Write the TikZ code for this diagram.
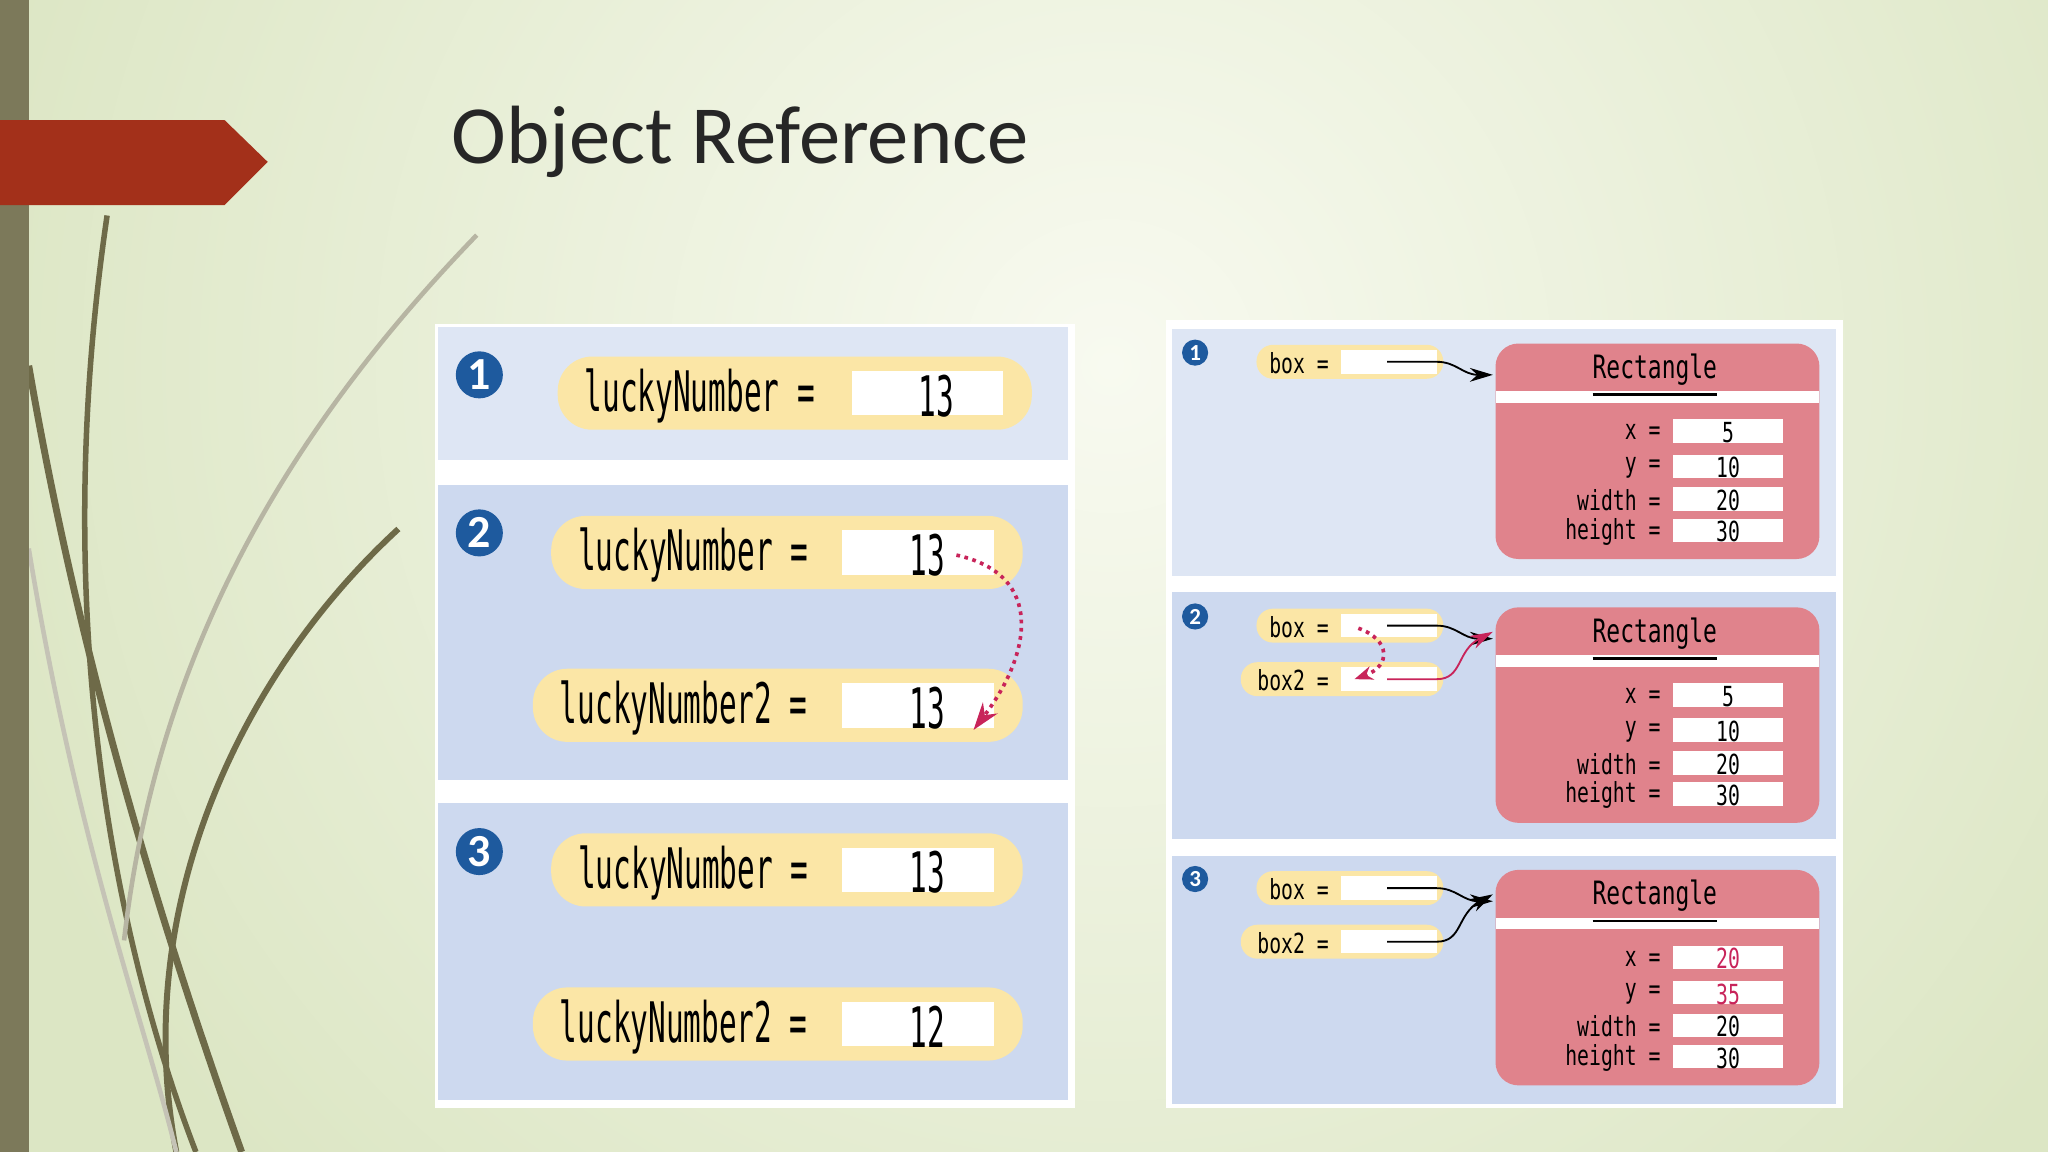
\documentclass[tikz,border=0pt]{standalone}
\usepackage{fontspec}
\setmainfont{Carlito}
\newfontfamily\monof{DejaVu Sans Mono}
\usetikzlibrary{arrows.meta}
\definecolor{bgout}{HTML}{DCE6C4}
\definecolor{bgin}{HTML}{F8FAF0}
\definecolor{pA}{HTML}{DEE6F4}
\definecolor{pB}{HTML}{CDD9EF}
\definecolor{pill}{HTML}{FBE6A6}
\definecolor{nblue}{HTML}{1E5A9E}
\definecolor{rect}{HTML}{E0838C}
\definecolor{arrowred}{HTML}{C8245A}
\definecolor{olive}{HTML}{6E6A48}
\definecolor{tag}{HTML}{A3301A}
\tikzset{
 pillS/.style={fill=pill,rounded corners=7.5pt},
 boxS/.style={fill=white},
 num/.style={circle,fill=nblue,text=white,inner sep=0pt,font=\bfseries},
 bigt/.style={font=\monof\fontsize{6.4}{7}\selectfont,anchor=west,inner sep=0pt},
 smt/.style={font=\monof\fontsize{4.3}{5}\selectfont,inner sep=0pt},
 ref/.style={-{Stealth[length=5pt,width=3pt]},thin},
 dotref/.style={-{Stealth[length=6pt,width=4pt]},densely dotted,thick,arrowred},
}
\newcommand\bigpill[6]{% name, x1,x2,y, label, value
 \fill[pillS] (#2,#4-28) rectangle (#3,#4+28);
 \fill[boxS] (#3-138,#4-17) rectangle (#3-22,#4+17);
 \node[bigt] (#1l) at (#2+20,#4+2) {\scalebox{1}[1.9]{#5}};
 \node[bigt,anchor=center] (#1v) at (#3-73,#4+2) {\scalebox{1}[1.9]{#6}};
}
\newcommand\smpill[4]{% name, x1, y, label
 \fill[pill,rounded corners=3.6pt] (#2,#3-13) rectangle (1105,#3+13);
 \fill[boxS] (1027,#3-9) rectangle (1100,#3+9);
 \node[smt,anchor=east] (#1) at (1018,#3+1) {\scalebox{1}[1.4]{#4}};
 \coordinate (#1s) at (1062,#3);
}
\newcommand\robj[5]{% prefix, top y, v1, v2, colour of v1 v2
 \fill[rect,rounded corners=5pt] (1145,#2) rectangle (1393,#2+165);
 \draw[white,line width=2.5pt] (1145,#2+41) -- (1393,#2+41);
 \node[smt,font=\monof\fontsize{5}{6}\selectfont] (#1h) at (1267,#2+25) {\scalebox{1}[1.4]{\underline{Rectangle}}};
 \coordinate (#1in) at (1143,#2+24);
 \foreach \dy/\lab/\val/\c in {67/x/#3/#5,94/y/#4/#5,119/width/20/black,143/height/30/black}{
  \fill[white] (1281,#2+\dy-9) rectangle (1365,#2+\dy+9);
  \node[smt,anchor=east] at (1272,#2+\dy+1) {\scalebox{1}[1.4]{\lab\ =}};
  \node[smt,text=\c] at (1323,#2+\dy+1) {\scalebox{1}[1.4]{\val}};
 }
}
\begin{document}
\begin{tikzpicture}[x=0.01cm,y=-0.01cm]
\useasboundingbox (0,0) rectangle (1568,882);
\begin{scope}
\clip (0,0) rectangle (1568,882);
\fill[bgout] (0,0) rectangle (1568,882);
\shade[inner color=bgin,outer color=bgout] (850,280) circle (900);
\draw[olive,line width=1.2pt] (82,165) .. controls (40,450) and (80,700) .. (150,882);
\draw[olive,line width=1.5pt] (22,280) .. controls (60,500) and (120,700) .. (185,882);
\draw[olive,line width=1.3pt] (305,405) .. controls (180,520) and (100,700) .. (135,882);
\draw[olive!50,line width=1pt] (365,180) .. controls (220,330) and (120,500) .. (95,720);
\draw[olive!40,line width=1pt] (22,420) .. controls (60,650) and (110,780) .. (135,882);
\end{scope}
\fill[olive!90] (0,0) rectangle (22,882);
\fill[tag] (0,92) -- (172,92) -- (205,124) -- (172,157) -- (0,157) -- cycle;
\node[anchor=base west,inner sep=0pt,font=\fontsize{18}{21}\selectfont,text=black!85] (title) at (345,125) {Object Reference};
% left diagram
\fill[white] (333,248) rectangle (823,848);
\fill[pA] (335,250) rectangle (818,352);
\fill[pB] (335,371) rectangle (818,597);
\fill[pB] (335,615) rectangle (818,842);
\node[num,minimum size=0.36cm] (n1) at (367,287) {1};
\node[num,minimum size=0.36cm] (n2) at (367,408) {2};
\node[num,minimum size=0.36cm] (n3) at (367,652) {3};
\bigpill{a}{427}{790}{301}{luckyNumber =}{13}
\bigpill{b}{422}{783}{423}{luckyNumber =}{13}
\bigpill{c}{408}{783}{540}{luckyNumber2 =}{13}
\bigpill{d}{422}{783}{666}{luckyNumber =}{13}
\bigpill{e}{408}{783}{784}{luckyNumber2 =}{12}
\draw[dotref] (bv.east) ++(8,0) .. controls (800,440) and (790,500) .. ([xshift=6pt]cv.south east);
% right diagram
\fill[white] (893,245) rectangle (1411,848);
\fill[pA] (897,252) rectangle (1406,441);
\fill[pB] (897,453) rectangle (1406,642);
\fill[pB] (897,655) rectangle (1406,845);
\node[num,minimum size=0.2cm,font=\bfseries\tiny] (m1) at (915,270) {1};
\node[num,minimum size=0.2cm,font=\bfseries\tiny] (m2) at (915,472) {2};
\node[num,minimum size=0.2cm,font=\bfseries\tiny] (m3) at (915,673) {3};
\smpill{p1}{962}{277}{box =}
\robj{r1}{263}{5}{10}{black}
\draw[ref] (p1s) -- (1100,277) .. controls (1115,277) and (1120,287) .. (r1in);
\smpill{p2}{962}{479}{box =}
\smpill{q2}{950}{520}{box2 =}
\robj{r2}{465}{5}{10}{black}
\draw[ref] (p2s) -- (1100,479) .. controls (1115,479) and (1120,489) .. (r2in);
\draw[ref,arrowred] (q2s) -- (1100,520) .. controls (1120,520) and (1115,498) .. ([yshift=1.5pt]r2in);
\draw[-{Stealth[length=4pt,width=3pt]},densely dotted,arrowred,thick] (1040,481) .. controls (1065,490) and (1065,510) .. (1037,520);
\smpill{p3}{962}{680}{box =}
\smpill{q3}{950}{721}{box2 =}
\robj{r3}{666}{20}{35}{arrowred}
\draw[ref] (p3s) -- (1100,680) .. controls (1115,680) and (1120,690) .. (r3in);
\draw[ref] (q3s) -- (1100,721) .. controls (1120,721) and (1115,700) .. ([yshift=1.5pt]r3in);
\end{tikzpicture}
\end{document}
